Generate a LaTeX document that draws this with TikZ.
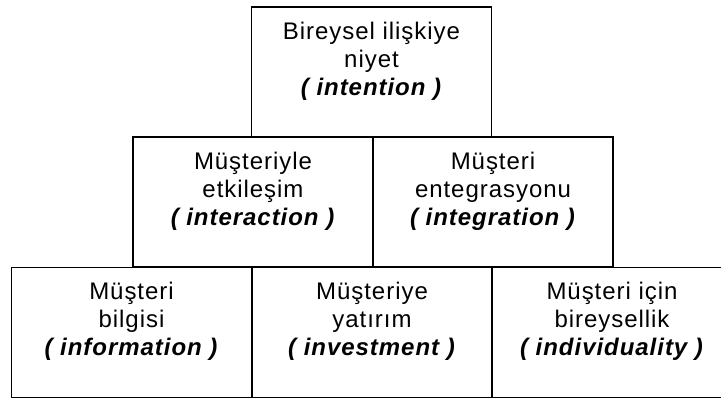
\documentclass[tikz,border=0pt]{standalone}
\usepackage{fontspec}
\setmainfont{Liberation Sans}[LetterSpace=4]
\begin{document}
\begin{tikzpicture}[x=0.75pt,y=-0.75pt,
  cell/.style={draw=black,line width=1.1pt,rectangle,inner sep=0pt,
    minimum width=180pt,minimum height=97.5pt},
  lbl/.style={anchor=north,inner sep=0pt,align=center,
    font=\fontsize{18pt}{21pt}\selectfont}]
\useasboundingbox (0,0) rectangle (721,399);
\clip (0,0) rectangle (721,399);
% pyramid of boxes
\node[cell] (intent) at (371.5,72) {};
\node[cell] (interact) at (253,202) {};
\node[cell] (integr) at (493,202) {};
\node[cell] (inform) at (131.5,332.5) {};
\node[cell] (invest) at (372,332.5) {};
\node[cell] (indiv) at (612,332.5) {};
% labels
\node[lbl] (intentT) at ([yshift=-11.5pt]intent.north) {Bireysel ilişkiye\\niyet\\\textbf{\textit{( intention )}}};
\node[lbl] (interactT) at ([yshift=-11.5pt]interact.north) {Müşteriyle\\etkileşim\\\textbf{\textit{( interaction )}}};
\node[lbl] (integrT) at ([yshift=-11.5pt]integr.north) {Müşteri\\entegrasyonu\\\textbf{\textit{( integration )}}};
\node[lbl] (informT) at ([yshift=-11.5pt]inform.north) {Müşteri\\bilgisi\\\textbf{\textit{( information )}}};
\node[lbl] (investT) at ([yshift=-11.5pt]invest.north) {Müşteriye\\yatırım\\\textbf{\textit{( investment )}}};
\node[lbl] (indivT) at ([yshift=-11.5pt]indiv.north) {Müşteri için\\bireysellik\\\textbf{\textit{( individuality )}}};
\end{tikzpicture}
\end{document}
